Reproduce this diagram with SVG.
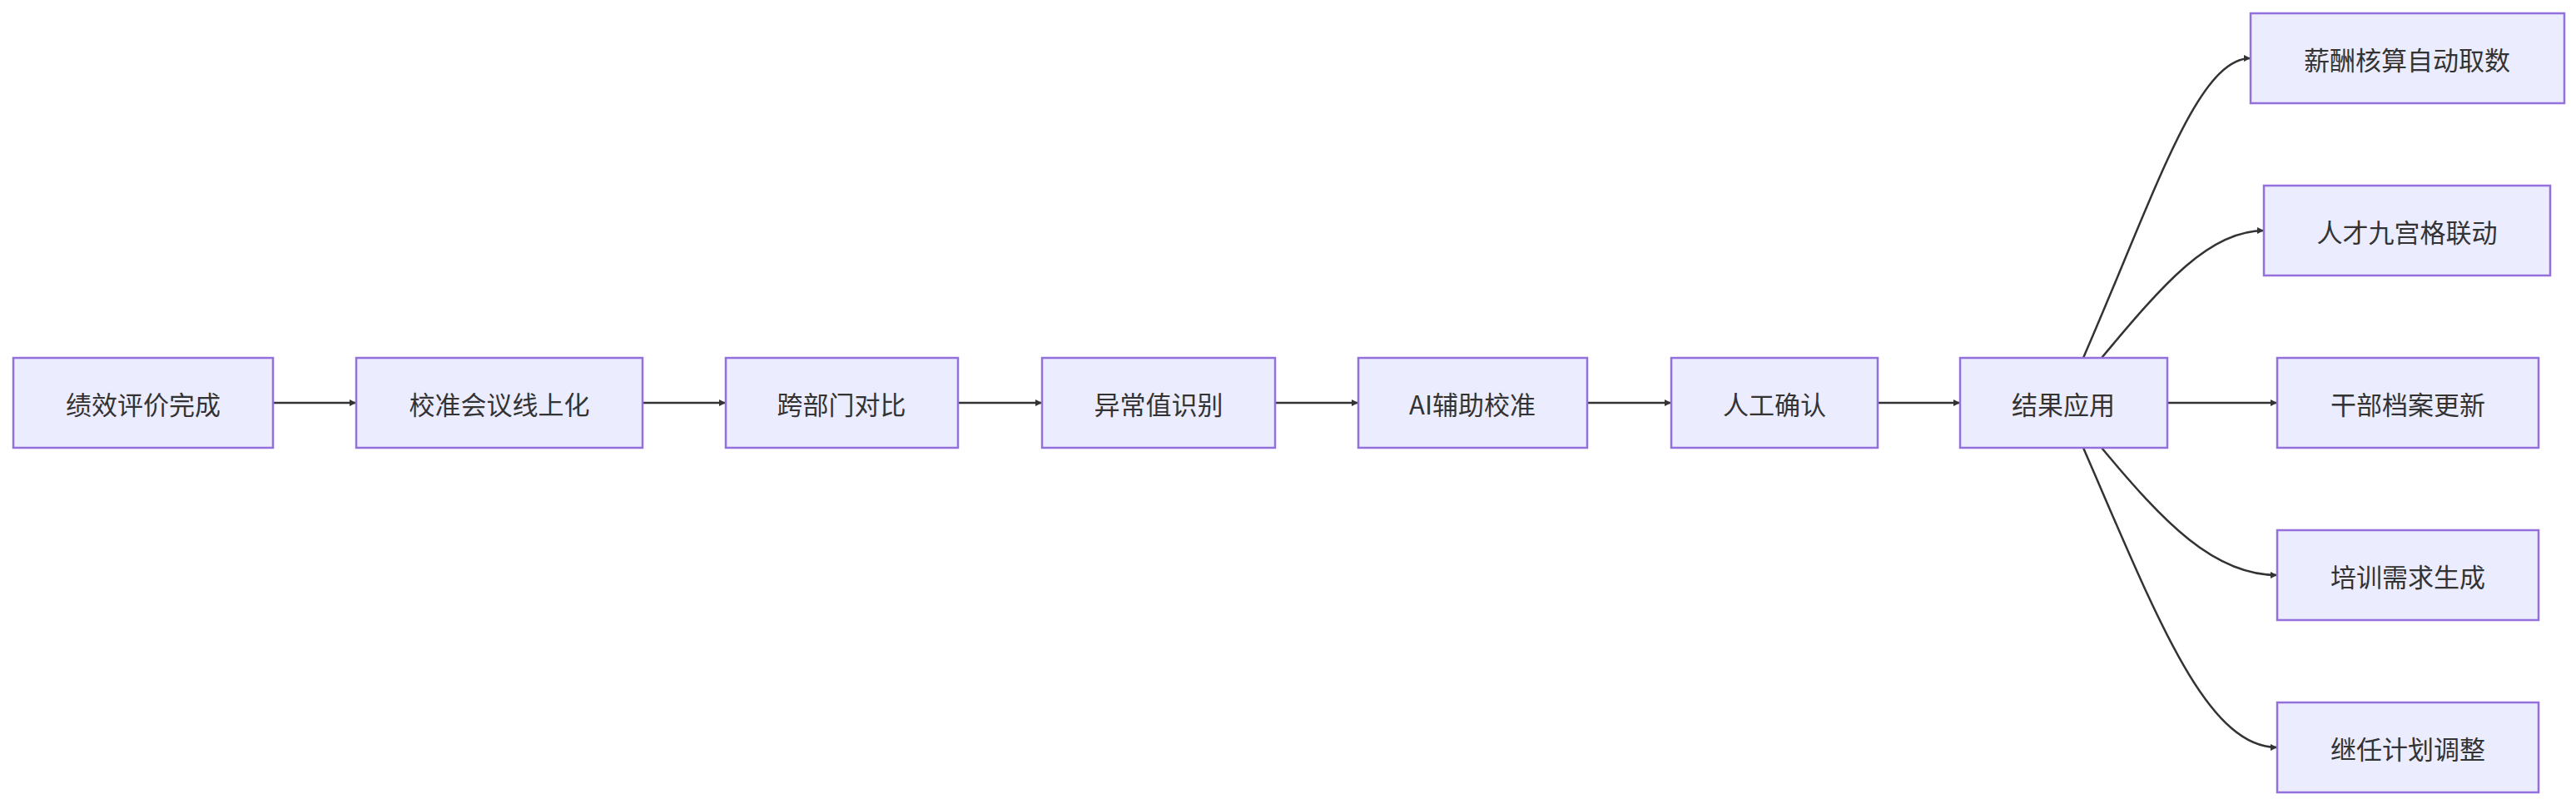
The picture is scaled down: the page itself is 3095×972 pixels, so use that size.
<svg xmlns="http://www.w3.org/2000/svg" width="3095" height="972" viewBox="0 0 3095 972">
<style>
.n rect{fill:#ececff;stroke:#9370db;stroke-width:2.5}
.n text{font-family:"Noto Sans CJK SC","Liberation Sans",sans-serif;font-size:31px;fill:#333;text-anchor:middle;dominant-baseline:central}
.e path{fill:none;stroke:#333;stroke-width:2.5;marker-end:url(#a)}
</style>
<defs><marker id="a" viewBox="0 0 10 10" refX="10" refY="5" markerWidth="8" markerHeight="8" markerUnits="userSpaceOnUse" orient="auto"><path d="M0,0L10,5L0,10z" fill="#333"/></marker></defs>
<rect width="3095" height="972" fill="#fff"/>
<g class="e">
<path d="M328,484H428"/>
<path d="M772,484H872"/>
<path d="M1151,484H1252"/>
<path d="M1532,484H1632"/>
<path d="M1907,484H2008"/>
<path d="M2256,484H2355"/>
<path d="M2604,484H2736"/>
<path d="M2503,430C2590,230 2640,70 2704,70"/>
<path d="M2525,430C2600,340 2655,277 2720,277"/>
<path d="M2525,538C2600,628 2660,691 2736,691"/>
<path d="M2503,538C2590,738 2650,898 2736,898"/>
</g>
<g id="n1" class="n"><rect x="16" y="430" width="312" height="108"/><text x="172" y="484">绩效评价完成</text></g>
<g id="n2" class="n"><rect x="428" y="430" width="344" height="108"/><text x="600" y="484">校准会议线上化</text></g>
<g id="n3" class="n"><rect x="872" y="430" width="279" height="108"/><text x="1011" y="484">跨部门对比</text></g>
<g id="n4" class="n"><rect x="1252" y="430" width="280" height="108"/><text x="1392" y="484">异常值识别</text></g>
<g id="n5" class="n"><rect x="1632" y="430" width="275" height="108"/><text x="1769" y="484">AI辅助校准</text></g>
<g id="n6" class="n"><rect x="2008" y="430" width="248" height="108"/><text x="2132" y="484">人工确认</text></g>
<g id="n7" class="n"><rect x="2355" y="430" width="249" height="108"/><text x="2479" y="484">结果应用</text></g>
<g id="n8" class="n"><rect x="2704" y="16" width="377" height="108"/><text x="2892" y="70">薪酬核算自动取数</text></g>
<g id="n9" class="n"><rect x="2720" y="223" width="344" height="108"/><text x="2892" y="277">人才九宫格联动</text></g>
<g id="n10" class="n"><rect x="2736" y="430" width="314" height="108"/><text x="2893" y="484">干部档案更新</text></g>
<g id="n11" class="n"><rect x="2736" y="637" width="314" height="108"/><text x="2893" y="691">培训需求生成</text></g>
<g id="n12" class="n"><rect x="2736" y="844" width="314" height="108"/><text x="2893" y="898">继任计划调整</text></g>
</svg>
